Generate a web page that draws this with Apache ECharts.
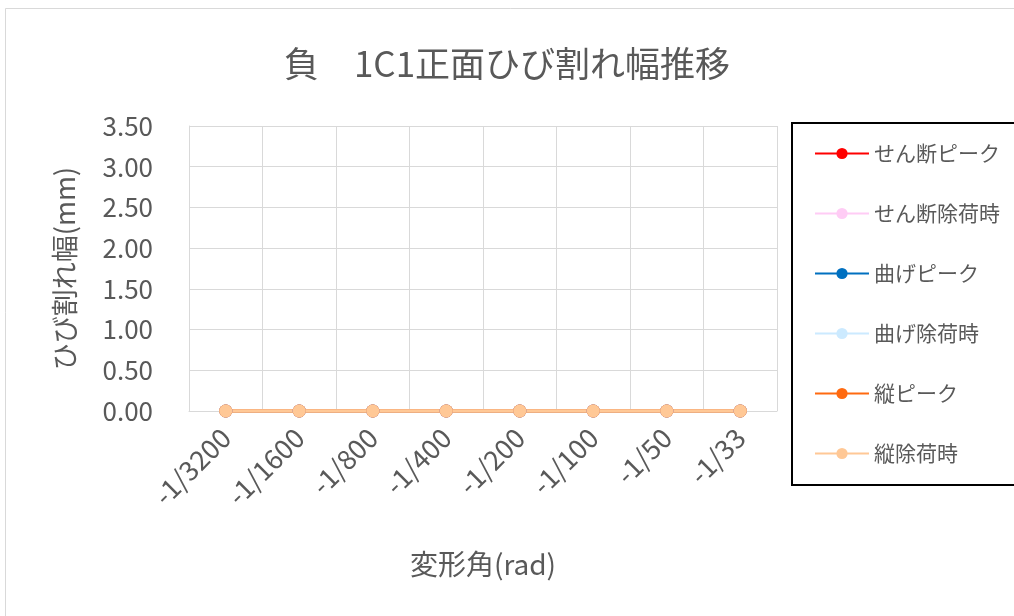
<!DOCTYPE html>
<html><head><meta charset="utf-8">
<script src="https://cdn.jsdelivr.net/npm/echarts@6/dist/echarts.min.js"></script>
<style>html,body{margin:0;padding:0;background:#fff;}#c{width:1014px;height:616px;}</style>
</head><body><div id="c"></div>
<script>
const categories = ['-1/3200','-1/1600','-1/800','-1/400','-1/200','-1/100','-1/50','-1/33'];
const shearPeak = [0,0,0,0,0,0,0,0];
const shearUnload = [0,0,0,0,0,0,0,0];
const bendPeak = [0,0,0,0,0,0,0,0];
const bendUnload = [0,0,0,0,0,0,0,0];
const vertPeak = [0,0,0,0,0,0,0,0];
const vertUnload = [0,0,0,0,0,0,0,0];
const seriesNames = ['せん断ピーク','せん断除荷時','曲げピーク','曲げ除荷時','縦ピーク','縦除荷時'];
const seriesColors = ['#ff0000','#ffccf5','#0070c0','#cceaff','#ff6a10','#ffc896'];
const seriesData = [shearPeak, shearUnload, bendPeak, bendUnload, vertPeak, vertUnload];
const yTicks = {min:0, max:3.5, interval:0.5};

const font = "'Noto Sans CJK JP', 'Noto Sans', sans-serif";
const chart = echarts.init(document.getElementById('c'));
chart.setOption({
  backgroundColor:'#fff',
  animation:false,
  textStyle:{fontFamily:font},
  graphic:[{type:'rect', shape:{x:5.5,y:8.5,width:1100,height:700}, style:{fill:'none', stroke:'#d9d9d9', lineWidth:1}, silent:true, z:-10}],
  title:{text:'負　1C1正面ひび割れ幅推移', left:'center', top:41, textStyle:{fontSize:35, fontWeight:'normal', color:'#595959', fontFamily:font}},
  grid:{left:189, right:237, top:126, bottom:205, containLabel:false},
  legend:{
    orient:'vertical', left:792, top:123,
    padding:[20, 60, 21, 22],
    itemWidth:54, itemHeight:14, itemGap:39,
    borderColor:'#000', borderWidth:2,
    textStyle:{fontSize:21, color:'#595959', fontFamily:font},
    data:seriesNames
  },
  xAxis:{
    type:'category', data:categories, boundaryGap:true,
    name:'変形角(rad)', nameLocation:'middle', nameGap:139,
    nameTextStyle:{fontSize:28, color:'#595959', fontFamily:font},
    axisLine:{lineStyle:{color:'#d9d9d9', width:1}},
    axisTick:{show:false},
    axisLabel:{rotate:45, margin:22, fontSize:27, color:'#595959', interval:0},
    splitLine:{show:true, interval:0, lineStyle:{color:'#d9d9d9', width:1}}
  },
  yAxis:{
    type:'value', min:yTicks.min, max:yTicks.max, interval:yTicks.interval,
    name:'ひび割れ幅(mm)', nameLocation:'middle', nameGap:111, nameRotate:90,
    nameTextStyle:{fontSize:27, color:'#595959', fontFamily:font},
    axisLine:{show:true, lineStyle:{color:'#d9d9d9'}},
    axisTick:{show:false},
    axisLabel:{fontSize:26, color:'#595959', margin:36, formatter:v=>v.toFixed(2)},
    splitLine:{show:true, lineStyle:{color:'#d9d9d9', width:1}}
  },
  series: seriesNames.map((n,i)=>({
    name:n, type:'line', data:seriesData[i],
    symbol:'circle', symbolSize:13,
    lineStyle:{width:3.5, color:seriesColors[i]},
    itemStyle:{color:seriesColors[i]}
  }))
});
</script></body></html>
